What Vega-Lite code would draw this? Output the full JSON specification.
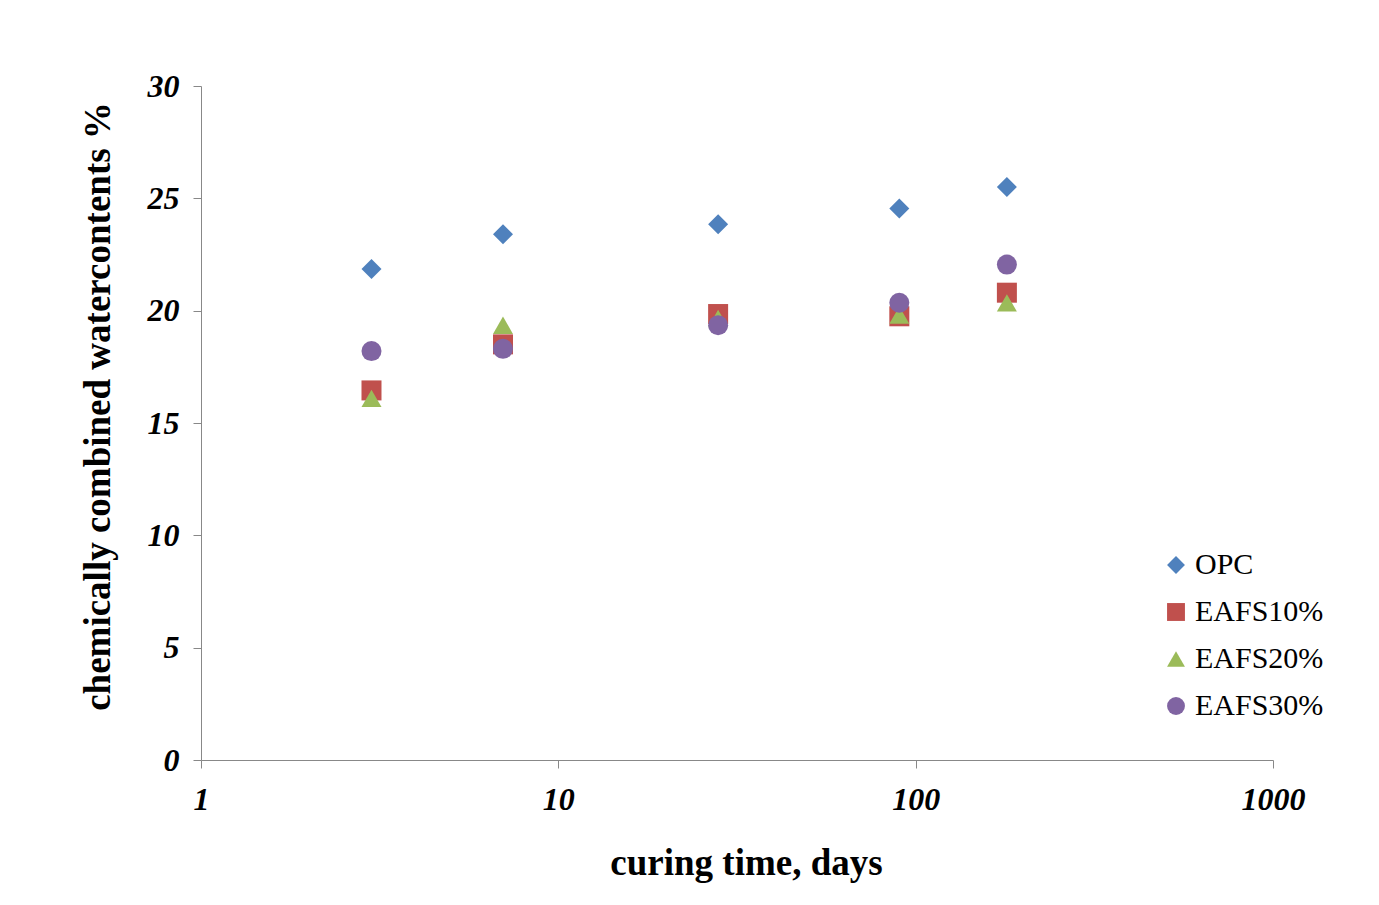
{
  "$schema": "https://vega.github.io/schema/vega-lite/v6.json",
  "autosize": {"type": "none"},
  "width": 1072,
  "height": 674,
  "padding": {"left": 201, "top": 86, "right": 106, "bottom": 145},
  "background": "white",
  "config": {"view": {"stroke": null}},
  "data": {
    "values": [
      {"days": 3, "value": 21.85, "series": "OPC"},
      {"days": 7, "value": 23.4, "series": "OPC"},
      {"days": 28, "value": 23.85, "series": "OPC"},
      {"days": 90, "value": 24.55, "series": "OPC"},
      {"days": 180, "value": 25.5, "series": "OPC"},
      {"days": 3, "value": 16.45, "series": "EAFS10%"},
      {"days": 7, "value": 18.5, "series": "EAFS10%"},
      {"days": 28, "value": 19.85, "series": "EAFS10%"},
      {"days": 90, "value": 19.75, "series": "EAFS10%"},
      {"days": 180, "value": 20.8, "series": "EAFS10%"},
      {"days": 3, "value": 16.1, "series": "EAFS20%"},
      {"days": 7, "value": 19.35, "series": "EAFS20%"},
      {"days": 28, "value": 19.65, "series": "EAFS20%"},
      {"days": 90, "value": 19.8, "series": "EAFS20%"},
      {"days": 180, "value": 20.35, "series": "EAFS20%"},
      {"days": 3, "value": 18.2, "series": "EAFS30%"},
      {"days": 7, "value": 18.3, "series": "EAFS30%"},
      {"days": 28, "value": 19.35, "series": "EAFS30%"},
      {"days": 90, "value": 20.35, "series": "EAFS30%"},
      {"days": 180, "value": 22.05, "series": "EAFS30%"}
    ]
  },
  "mark": {"type": "point", "filled": true, "opacity": 1, "size": 400},
  "encoding": {
    "x": {
      "field": "days",
      "type": "quantitative",
      "scale": {"type": "log", "domain": [1, 1000], "nice": false},
      "axis": {
        "title": "curing time, days",
        "values": [1, 10, 100, 1000],
        "format": "d",
        "grid": false,
        "domainColor": "#888888",
        "tickColor": "#888888",
        "tickSize": 8,
        "labelFont": "Liberation Serif",
        "labelFontSize": 32,
        "labelFontWeight": "bold",
        "labelFontStyle": "italic",
        "labelColor": "black",
        "labelPadding": 16,
        "labelDx": 5,
        "labelFlush": false,
        "titleFont": "Liberation Serif",
        "titleFontSize": 37,
        "titleFontWeight": "bold",
        "titleColor": "black",
        "titlePadding": 30,
        "titleX": 545
      }
    },
    "y": {
      "field": "value",
      "type": "quantitative",
      "scale": {"domain": [0, 30], "nice": false, "zero": true},
      "axis": {
        "title": "chemically  combined watercontents %",
        "values": [0, 5, 10, 15, 20, 25, 30],
        "grid": false,
        "domainColor": "#888888",
        "tickColor": "#888888",
        "tickSize": 8,
        "labelFont": "Liberation Serif",
        "labelFontSize": 32,
        "labelFontWeight": "bold",
        "labelFontStyle": "italic",
        "labelColor": "black",
        "labelPadding": 14,
        "labelFlush": false,
        "titleFont": "Liberation Serif",
        "titleFontSize": 37,
        "titleFontWeight": "bold",
        "titleColor": "black",
        "titlePadding": 30,
        "titleY": 320
      }
    },
    "color": {
      "field": "series",
      "type": "nominal",
      "scale": {
        "domain": ["OPC", "EAFS10%", "EAFS20%", "EAFS30%"],
        "range": ["#4F81BD", "#C0504D", "#9BBB59", "#8064A2"]
      },
      "legend": {
        "title": null,
        "orient": "none",
        "legendX": 960,
        "legendY": 464,
        "labelFont": "Liberation Serif",
        "labelFontSize": 30,
        "labelColor": "black",
        "symbolSize": 320,
        "symbolOpacity": 1,
        "rowPadding": 17,
        "labelOffset": 4,
        "labelLimit": 300
      }
    },
    "shape": {
      "field": "series",
      "type": "nominal",
      "scale": {
        "domain": ["OPC", "EAFS10%", "EAFS20%", "EAFS30%"],
        "range": ["diamond", "square", "triangle-up", "circle"]
      },
      "legend": null
    }
  }
}
